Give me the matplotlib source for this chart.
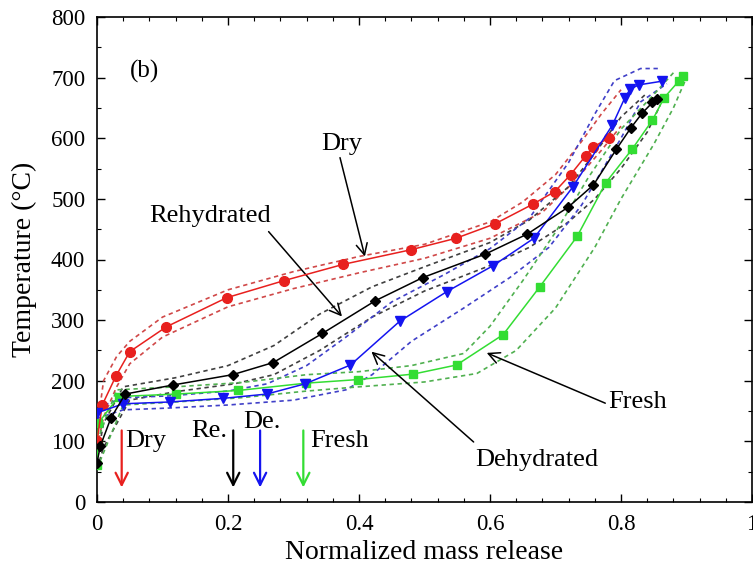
import matplotlib
matplotlib.use("Agg")
import matplotlib.pyplot as plt
from matplotlib.ticker import MultipleLocator, FixedLocator

plt.rcParams['font.family'] = ['Liberation Serif', 'DejaVu Serif']
plt.rcParams['mathtext.fontset'] = 'stix'

# Mean curves: normalized mass release vs temperature (°C)
dry_x = [0.0, 0.008, 0.029, 0.050, 0.106, 0.198, 0.285, 0.376, 0.479, 0.548,
         0.608, 0.665, 0.699, 0.723, 0.746, 0.757, 0.782]
dry_y = [100, 160, 208, 248, 289, 337, 365, 392, 416, 435,
         459, 491, 512, 540, 571, 585, 601]

rehy_x = [0.0, 0.005, 0.021, 0.043, 0.116, 0.207, 0.269, 0.344, 0.425, 0.497,
          0.593, 0.657, 0.719, 0.758, 0.793, 0.815, 0.832, 0.848, 0.855]
rehy_y = [65, 92, 138, 178, 193, 210, 230, 278, 332, 370,
          409, 442, 486, 523, 582, 617, 641, 659, 665]

dehy_x = [0.0, 0.040, 0.111, 0.193, 0.259, 0.318, 0.387, 0.462, 0.534, 0.605,
          0.667, 0.726, 0.787, 0.806, 0.814, 0.827, 0.862]
dehy_y = [147, 162, 165, 171, 178, 195, 226, 298, 347, 390,
          435, 519, 622, 667, 681, 688, 694]

fresh_x = [0.0, 0.001, 0.002, 0.033, 0.121, 0.216, 0.319, 0.399, 0.483, 0.549,
           0.620, 0.676, 0.733, 0.777, 0.817, 0.848, 0.866, 0.888, 0.895]
fresh_y = [61, 97, 130, 174, 178, 184, 196, 202, 211, 226,
           276, 355, 438, 527, 582, 630, 667, 694, 702]

# Upper / lower bounds of each condition
dry_up_x = [0.0, 0.01, 0.03, 0.05, 0.10, 0.20, 0.30, 0.40, 0.50, 0.60, 0.65, 0.70, 0.74, 0.77, 0.80]
dry_up_y = [120, 200, 240, 265, 305, 350, 380, 405, 425, 462, 495, 540, 595, 640, 680]
dry_lo_x = [0.0, 0.01, 0.03, 0.05, 0.10, 0.20, 0.30, 0.40, 0.50, 0.60, 0.68, 0.73, 0.77, 0.80]
dry_lo_y = [90, 140, 190, 228, 272, 322, 352, 378, 402, 435, 478, 530, 580, 620]

rehy_up_x = [0.0, 0.01, 0.04, 0.12, 0.20, 0.27, 0.34, 0.42, 0.50, 0.60, 0.66, 0.72, 0.76, 0.80, 0.84]
rehy_up_y = [70, 130, 190, 205, 225, 258, 310, 355, 388, 428, 465, 520, 575, 635, 675]
rehy_lo_x = [0.0, 0.01, 0.05, 0.12, 0.21, 0.27, 0.34, 0.42, 0.50, 0.60, 0.66, 0.72, 0.76, 0.80, 0.84, 0.86]
rehy_lo_y = [55, 90, 168, 182, 195, 210, 250, 305, 348, 390, 420, 462, 500, 550, 610, 655]

dehy_up_x = [0.0, 0.04, 0.11, 0.20, 0.26, 0.32, 0.38, 0.45, 0.53, 0.60, 0.66, 0.72, 0.76, 0.79, 0.83, 0.86]
dehy_up_y = [155, 172, 175, 183, 195, 225, 272, 330, 375, 418, 468, 560, 640, 695, 715, 715]
dehy_lo_x = [0.0, 0.04, 0.11, 0.20, 0.30, 0.38, 0.42, 0.48, 0.56, 0.63, 0.69, 0.74, 0.80, 0.83, 0.87]
dehy_lo_y = [138, 152, 155, 160, 168, 185, 210, 265, 320, 370, 420, 490, 600, 660, 690]

fresh_up_x = [0.0, 0.03, 0.12, 0.22, 0.32, 0.40, 0.48, 0.56, 0.60, 0.65, 0.70, 0.75, 0.80, 0.85, 0.88]
fresh_up_y = [100, 185, 190, 197, 210, 215, 225, 245, 290, 365, 445, 535, 615, 672, 708]
fresh_lo_x = [0.0, 0.04, 0.12, 0.22, 0.32, 0.40, 0.50, 0.58, 0.64, 0.70, 0.76, 0.80, 0.85, 0.88, 0.90]
fresh_lo_y = [55, 160, 165, 172, 183, 190, 198, 212, 250, 320, 420, 500, 590, 650, 700]

RED = '#e8201e'
BLACK = '#000000'
BLUE = '#1414f0'
GREEN = '#33dd33'

fig = plt.figure(figsize=(7.53, 5.69), dpi=100)
ax = fig.add_axes([97 / 753, 1 - 502 / 569, 655 / 753, 485 / 569])

band_style = dict(linestyle=(0, (2.6, 2.2)), linewidth=1.2, zorder=2)
ax.plot(dry_up_x, dry_up_y, color='#d04848', **band_style)
ax.plot(dry_lo_x, dry_lo_y, color='#d04848', **band_style)
ax.plot(rehy_up_x, rehy_up_y, color='#404040', **band_style)
ax.plot(rehy_lo_x, rehy_lo_y, color='#404040', **band_style)
ax.plot(dehy_up_x, dehy_up_y, color='#4040c8', **band_style)
ax.plot(dehy_lo_x, dehy_lo_y, color='#4040c8', **band_style)
ax.plot(fresh_up_x, fresh_up_y, color='#50b050', **band_style)
ax.plot(fresh_lo_x, fresh_lo_y, color='#50b050', **band_style)

ax.plot(fresh_x, fresh_y, color=GREEN, marker='s', markersize=6, linewidth=1.1, zorder=3)
ax.plot(dry_x, dry_y, color=RED, marker='o', markersize=7, linewidth=1.1, zorder=4)
ax.plot(dehy_x, dehy_y, color=BLUE, marker='v', markersize=7.5, linewidth=1.1, zorder=4)
ax.plot(rehy_x, rehy_y, color=BLACK, marker='D', markersize=5.5, linewidth=1.1, zorder=5)

ax.set_xlim(0, 1)
ax.set_ylim(0, 800)
ax.xaxis.set_major_locator(FixedLocator([0, 0.2, 0.4, 0.6, 0.8, 1.0]))
ax.set_xticklabels(['0', '0.2', '0.4', '0.6', '0.8', '1'])
ax.xaxis.set_minor_locator(MultipleLocator(0.04))
ax.yaxis.set_major_locator(MultipleLocator(100))
ax.yaxis.set_minor_locator(MultipleLocator(50))
ax.tick_params(which='both', direction='in', top=True, right=True, labelsize=16.5)
ax.tick_params(which='major', length=6, width=1)
ax.tick_params(which='minor', length=3, width=0.8)
ax.tick_params(axis='y', which='major', pad=8.5)
ax.tick_params(axis='x', which='major', pad=9)
for s in ax.spines.values():
    s.set_linewidth(1.2)

ax.set_xlabel('Normalized mass release', fontsize=20, labelpad=3)
ax.set_ylabel('Temperature (°C)', fontsize=20, labelpad=10)

ax.text(0.05, 710, '(b)', fontsize=18, va='center', ha='left')

# Curve labels with pointer arrows
arrow = dict(arrowstyle='->', color='black', lw=1.1, mutation_scale=20, shrinkA=0, shrinkB=0)
ax.text(0.374, 591, 'Dry', fontsize=19, ha='center', va='center')
ax.annotate('', xy=(0.409, 405), xytext=(0.371, 568), arrowprops=arrow)
ax.text(0.173, 471, 'Rehydrated', fontsize=19, ha='center', va='center')
ax.annotate('', xy=(0.374, 306), xytext=(0.262, 446), arrowprops=arrow)
ax.text(0.577, 69, 'Dehydrated', fontsize=19, ha='left', va='center')
ax.annotate('', xy=(0.419, 248), xytext=(0.575, 99), arrowprops=arrow)
ax.text(0.780, 165, 'Fresh', fontsize=19, ha='left', va='center')
ax.annotate('', xy=(0.595, 246), xytext=(0.776, 163), arrowprops=arrow)

# Onset markers along the bottom
onset_x = [0.0377, 0.208, 0.249, 0.315]
onset_c = [RED, BLACK, BLUE, GREEN]
for xv, c in zip(onset_x, onset_c):
    ax.annotate('', xy=(xv, 24), xytext=(xv, 118),
                arrowprops=dict(arrowstyle='->', color=c, lw=1.6, mutation_scale=22,
                                shrinkA=0, shrinkB=0))
ax.text(0.043, 100, 'Dry', fontsize=19, ha='left', va='center')
ax.text(0.171, 117, 'Re.', fontsize=19, ha='center', va='center')
ax.text(0.252, 132, 'De.', fontsize=19, ha='center', va='center')
ax.text(0.325, 100, 'Fresh', fontsize=19, ha='left', va='center')

fig.savefig('out.png', dpi=100)
